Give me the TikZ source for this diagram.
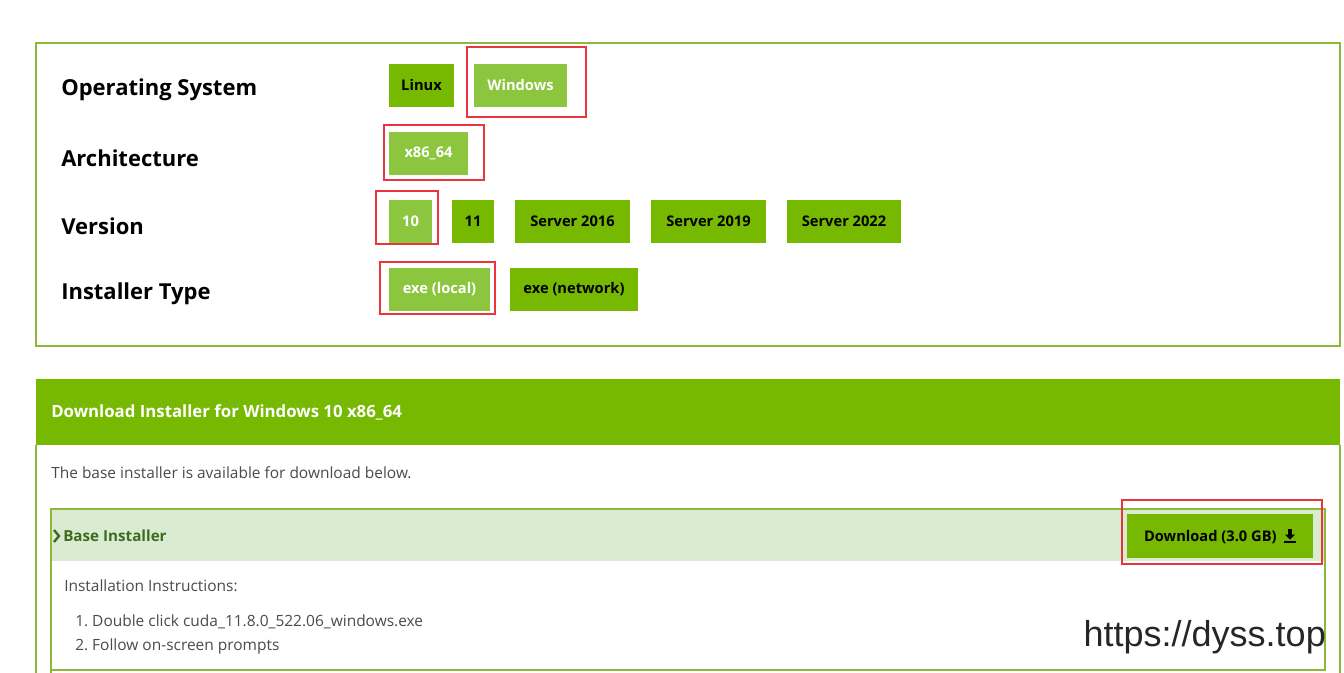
\documentclass[tikz,border=0pt]{standalone}
\usepackage{fontspec}
\setmainfont{Open Sans}
\newfontfamily\wmfont{Liberation Sans}
\usetikzlibrary{positioning,fit}
\definecolor{nvgreen}{HTML}{76B900}
\definecolor{nvlight}{HTML}{8CC63F}
\definecolor{nvline}{HTML}{8DB83A}
\definecolor{nvpale}{HTML}{D9ECD2}
\definecolor{nvdark}{HTML}{3E6B1F}
\definecolor{redmark}{HTML}{E8363C}
\definecolor{txtgray}{HTML}{4A4A4A}
\begin{document}
\begin{tikzpicture}[x=0.75pt,y=-0.75pt,
 btn/.style={fill=nvgreen,text=black,font=\bfseries\fontsize{11}{13}\selectfont,
  minimum height=32.25pt,inner sep=0pt,anchor=center},
 btnsel/.style={btn,fill=nvlight,text=white},
 lbl/.style={anchor=west,font=\bfseries\fontsize{16.5}{19}\selectfont,inner sep=0pt},
 redbox/.style={draw=redmark,line width=2.2pt},
 plain/.style={anchor=west,inner sep=0pt,text=txtgray,font=\fontsize{11.6}{13}\selectfont},
 ]
 \useasboundingbox (0,0) rectangle (1344,673);
 % top selection panel
 \draw[nvline,line width=0.9pt] (36,43) rectangle (1340,346);
 \node[lbl] (os) at (61,90) {Operating System};
 \node[lbl] (arch) at (61,158) {Architecture};
 \node[lbl] (ver) at (61,226) {Version};
 \node[lbl] (inst) at (61,294) {Installer Type};
 % buttons
 \node[btn,minimum width=48.75pt] (linux) at (421.5,85.5) {Linux};
 \node[btnsel,minimum width=69.75pt] (win) at (520.5,85.5) {Windows};
 \node[btnsel,minimum width=59.25pt] (x86) at (428.5,153.5) {x86\_64};
 \node[btnsel,minimum width=32.25pt] (v10) at (410.5,221.5) {10};
 \node[btn,minimum width=31.5pt] (v11) at (473,221.5) {11};
 \node[btn,minimum width=86.25pt] (s16) at (572.5,221.5) {Server 2016};
 \node[btn,minimum width=86.25pt] (s19) at (708.5,221.5) {Server 2019};
 \node[btn,minimum width=85.5pt] (s22) at (844,221.5) {Server 2022};
 \node[btnsel,minimum width=75.75pt] (local) at (439.5,289.5) {exe (local)};
 \node[btn,minimum width=96pt] (net) at (574,289.5) {exe (network)};
 % highlight marks
 \draw[redbox] (467,47) rectangle (586,117);
 \draw[redbox] (384,125) rectangle (484,180);
 \draw[redbox] (376,191) rectangle (438,244);
 \draw[redbox] (380,262) rectangle (495,314);
 % download panel
 \fill[nvgreen] (36,379) rectangle (1340,445);
 \node[anchor=west,inner sep=0pt,text=white,font=\bfseries\fontsize{12.6}{14}\selectfont] (head) at (51,412)
  {Download Installer for Windows 10 x86\_64};
 \draw[nvline,line width=0.9pt] (36,445) -- (36,673) (1340,445) -- (1340,673);
 \node[plain] (avail) at (51,473) {The base installer is available for download below.};
 \fill[nvpale] (51,509) rectangle (1325,561);
 \draw[nvline,line width=0.9pt] (51,673) -- (51,509) -- (1325,509) -- (1325,670) -- (51,670);
 \node[anchor=west,inner sep=0pt,text=nvdark,font=\bfseries\fontsize{11.4}{13}\selectfont] (base) at (63,536) {Base Installer};
 \draw[nvdark,line width=1.8pt] (54,530) -- (59,536) -- (54,542);
 \node[btn,minimum width=139.5pt,minimum height=33pt] (dl) at (1220,536)
  {Download (3.0 GB)\hspace{0.5em}\raisebox{-0.1em}{\tikz[x=0.75pt,y=0.75pt]{\fill (3,12) rectangle (7,6);
   \fill (0,6) -- (10,6) -- (5,1) -- cycle; \fill (-1,0) rectangle (11,-2);}}};
 \draw[redbox] (1122,500) rectangle (1322,564);
 \node[plain] (instr) at (64,586) {Installation Instructions:};
 \node[plain] (step1) at (75,622) {1.\ Double click cuda\_11.8.0\_522.06\_windows.exe};
 \node[plain] (step2) at (75,646) {2.\ Follow on-screen prompts};
 % watermark
 \node[anchor=east,inner sep=0pt,text=black!85,font=\wmfont\fontsize{27}{30}\selectfont] (wm) at (1326,637) {https://dyss.top};
\end{tikzpicture}
\end{document}
